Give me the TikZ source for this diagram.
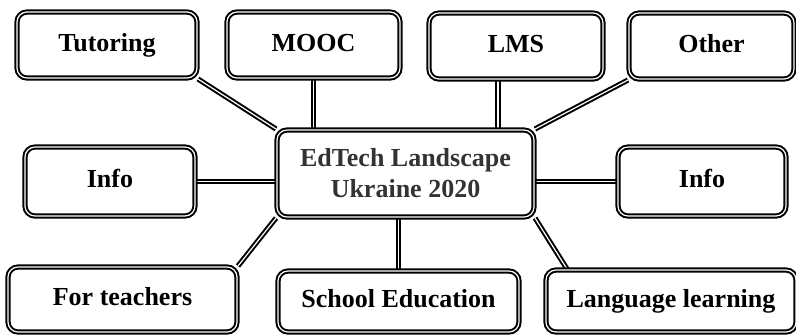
\documentclass[tikz,border=0pt]{standalone}
\usepackage{fontspec}
\setmainfont{Liberation Serif}
\usetikzlibrary{backgrounds}
\definecolor{hubgray}{HTML}{333333}
\begin{document}
\begin{tikzpicture}[x=0.5pt,y=-0.5pt,
    box/.style={draw, fill=white, rounded corners=5pt, double, double distance=0.6pt,
        line width=1pt, font=\bfseries\fontsize{13}{15}\selectfont, inner sep=0pt},
    tag/.style={box, text height=9pt, text depth=2.7pt},
    link/.style={draw, double, double distance=0.6pt, line width=1pt}]
    \useasboundingbox (0,0) rectangle (796,334);
    % Top row
    \node[tag, minimum width=90pt, minimum height=33pt] (tut) at (107,45) {Tutoring};
    \node[tag, minimum width=86.5pt, minimum height=33pt] (mooc) at (313.5,45) {MOOC};
    \node[tag, minimum width=87pt, minimum height=33pt] (lms) at (516,46) {LMS};
    \node[tag, minimum width=82.5pt, minimum height=33pt] (other) at (711.5,46) {Other};
    % Middle row
    \node[box, minimum width=128.5pt, minimum height=43.5pt, align=center,
        text=hubgray, font=\bfseries\fontsize{13}{15.5}\selectfont] (hub) at (405.5,173.5)
        {EdTech Landscape\\Ukraine 2020};
    \node[tag, minimum width=85pt, minimum height=34.5pt] (infoL) at (110,181.5) {Info};
    \node[tag, minimum width=84pt, minimum height=34.5pt] (infoR) at (702,181.5) {Info};
    % Bottom row
    \node[tag, minimum width=114.5pt, minimum height=32.5pt] (teach) at (122.5,299.5) {For teachers};
    \node[tag, minimum width=120.5pt, minimum height=30.5pt] (school) at (398.5,301.5) {School Education};
    \node[tag, minimum width=125pt, minimum height=31pt] (lang) at (671,301) {Language learning};
    % Connectors behind the boxes
    \coordinate (lmsfoot) at ([xshift=-9pt]lms.south);
    \coordinate (langtop) at ([xshift=11pt]lang.north west);
    \begin{scope}[on background layer]
        \draw[link] (tut.south east) -- (hub.north west);
        \draw[link] (mooc.south) -- (mooc.south |- hub.north);
        \draw[link] (lmsfoot) -- (lmsfoot |- hub.north);
        \draw[link] (other.south west) -- (hub.north east);
        \draw[link] (infoL.east) -- (infoL.east -| hub.west);
        \draw[link] (infoR.west) -- (infoR.west -| hub.east);
        \draw[link] (hub.south west) -- (teach.north east);
        \draw[link] (school.north) -- (school.north |- hub.south);
        \draw[link] (hub.south east) -- (langtop);
    \end{scope}
\end{tikzpicture}
\end{document}
